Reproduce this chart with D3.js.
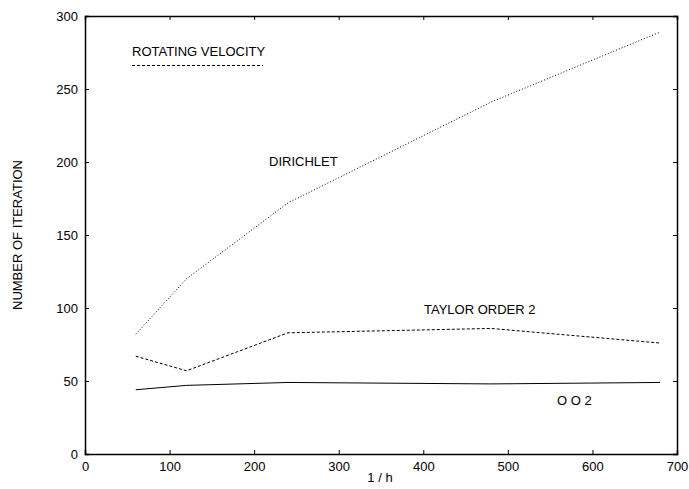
<!DOCTYPE html>
<html>
<head>
<meta charset="utf-8">
<script src="https://cdn.jsdelivr.net/npm/d3@7"></script>
<style>
  html, body { margin: 0; padding: 0; background: #fff; }
  svg text { font-family: "Liberation Sans", Arial, Helvetica, sans-serif; font-size: 13px; fill: #000; }
</style>
</head>
<body>
<svg id="chart" width="689" height="489"></svg>
<script>
// Mesh refinement (1/h) and iteration counts per boundary treatment
const meshSizes = [60, 120, 240, 480, 680];
const dirichlet = [82, 120, 172, 241, 289];
const taylorOrder2 = [67, 57, 83, 86, 76];
const oo2 = [44, 47, 49, 48, 49];
const xTicks = [0, 100, 200, 300, 400, 500, 600, 700];
const yTicks = [0, 50, 100, 150, 200, 250, 300];

const svg = d3.select("#chart");
const margin = { left: 85, right: 12, top: 16, bottom: 35 };
const W = 689, H = 489;

const x = d3.scaleLinear().domain([0, 700]).range([margin.left, W - margin.right]);
const y = d3.scaleLinear().domain([0, 300]).range([H - margin.bottom, margin.top]);

const g = svg.append("g");

// Axes: ticks point inward, mirrored on top and right
const tickLen = 4;
const xBottom = g.append("g").attr("transform", `translate(0,${y(0)})`)
  .call(d3.axisBottom(x).tickValues(xTicks).tickSize(-tickLen).tickPadding(8).tickFormat(d3.format("d")));
const xTop = g.append("g").attr("transform", `translate(0,${y(300)})`)
  .call(d3.axisTop(x).tickValues(xTicks).tickSize(-tickLen).tickFormat(""));
const yLeft = g.append("g").attr("transform", `translate(${x(0)},0)`)
  .call(d3.axisLeft(y).tickValues(yTicks).tickSize(-tickLen).tickPadding(7).tickFormat(d3.format("d")));
const yRight = g.append("g").attr("transform", `translate(${x(700)},0)`)
  .call(d3.axisRight(y).tickValues(yTicks).tickSize(-tickLen).tickFormat(""));

[xBottom, xTop, yLeft, yRight].forEach(a => {
  a.selectAll(".domain").attr("stroke", "#000").attr("stroke-width", 1.5);
  a.selectAll(".tick line").attr("stroke", "#000");
  a.selectAll("text").attr("font-size", 13).attr("font-family", null);
});

// Axis titles
g.append("text").attr("x", 380).attr("y", 482).attr("text-anchor", "middle").text("1 / h");
g.append("text")
  .attr("transform", `translate(22,${(y(0) + y(300)) / 2}) rotate(-90)`)
  .attr("text-anchor", "middle").text("NUMBER OF ITERATION");

// Series lines
const line = d3.line().x((d, i) => x(meshSizes[i])).y(d => y(d));

g.append("path").datum(dirichlet).attr("d", line)
  .attr("fill", "none").attr("stroke", "#000").attr("stroke-width", 1)
  .attr("stroke-dasharray", "1,2");
g.append("path").datum(taylorOrder2).attr("d", line)
  .attr("fill", "none").attr("stroke", "#000").attr("stroke-width", 1)
  .attr("stroke-dasharray", "3,2");
g.append("path").datum(oo2).attr("d", line)
  .attr("fill", "none").attr("stroke", "#000").attr("stroke-width", 1);

// Legend-style title with its dashed sample
g.append("text").attr("x", 132).attr("y", 56).text("ROTATING VELOCITY");
g.append("line").attr("x1", 132).attr("x2", 263).attr("y1", 65.5).attr("y2", 65.5)
  .attr("stroke", "#000").attr("stroke-width", 1).attr("stroke-dasharray", "3,2");

// Curve labels
g.append("text").attr("x", 269).attr("y", 166).text("DIRICHLET");
g.append("text").attr("x", 424).attr("y", 314).text("TAYLOR ORDER 2");
g.append("text").attr("x", 557).attr("y", 405).text("O O 2");
</script>
</body>
</html>
